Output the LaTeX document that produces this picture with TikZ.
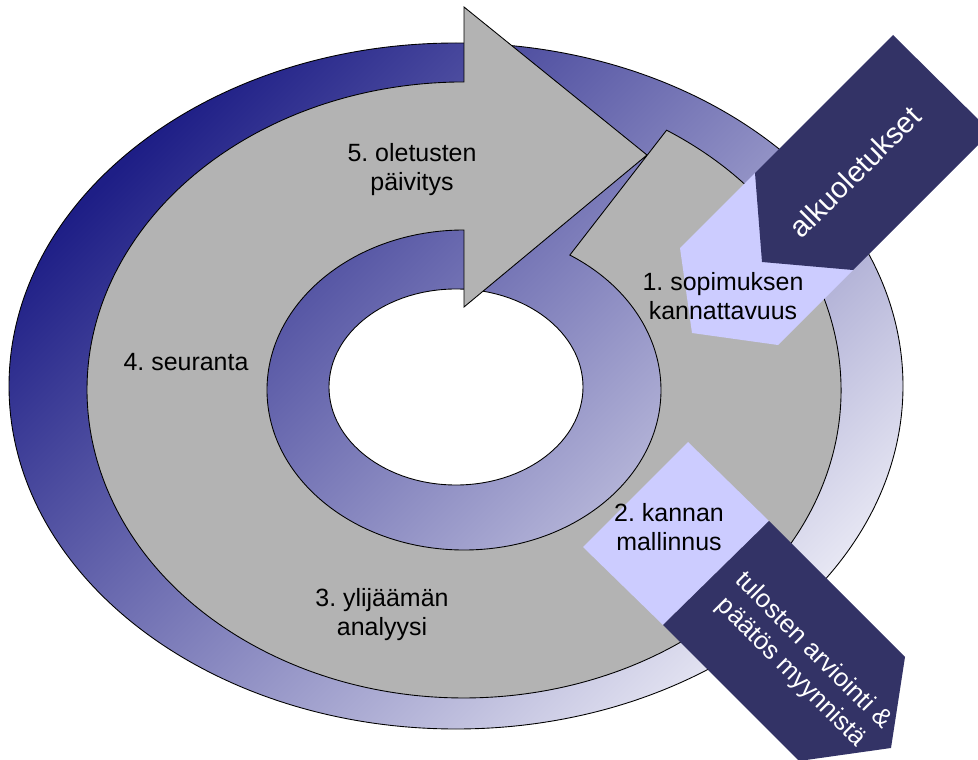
\documentclass[tikz,border=0pt]{standalone}
\usepackage{fontspec}
\setmainfont{Liberation Sans}
\usepackage{tikz}
\frenchspacing

\definecolor{ringgrey}{HTML}{B3B3B3}
\definecolor{lavender}{HTML}{CCCCFF}
\definecolor{darknavy}{HTML}{333366}
\definecolor{bluedark}{RGB}{30,30,134}
\definecolor{bluelight}{RGB}{230,230,243}

\tikzset{
  outline/.style={draw=black, line width=0.5pt},
  stage/.style={align=center, font=\fontsize{14.2}{16.5}\selectfont},
  flowtext/.style={align=center, text=white, font=\fontsize{14.6}{17.4}\selectfont},
}

\begin{document}
\begin{tikzpicture}[x=0.02cm, y=-0.02cm]
    \useasboundingbox (0,0) rectangle (978,760);
    \clip (0,0) rectangle (978,760);

    \draw[outline, top color=bluedark, bottom color=bluelight, shading angle=45] (456,386) ellipse [x radius=447, y radius=343];
    \draw[outline, fill=white] (456,387) ellipse [x radius=127, y radius=98];
    \draw[outline, fill=ringgrey] (666.6,130.2)
        arc[start angle=-57.5, end angle=270, x radius=377, y radius=308]
        -- (464,7) -- (647,155) -- (464,307) -- (464,230)
        arc[start angle=270, end angle=-57.5, x radius=197, y radius=160] -- cycle;

    \fill[lavender] (755,173) -- (680,248) -- (692,333) -- (778,345) -- (853,270) -- cycle;
    \fill[lavender] (688,442) -- (583,547) -- (663,625) -- (769,521) -- cycle;
    \fill[darknavy] (893,35) -- (755,173) -- (762,262) -- (853,270) -- (991,132) -- cycle;
    \fill[darknavy] (769,521) -- (663,625) -- (799,761) -- (891,748) -- (905,657) -- cycle;

    \node[stage] at (412,170) (s5) {5. oletusten\\päivitys};
    \node[stage] at (186,362) (s4) {4. seuranta};
    \node[stage] at (382,615) (s3) {3. ylijäämän\\analyysi};
    \node[stage] at (723,296) (s1) {1. sopimuksen\\kannattavuus};
    \node[stage] at (669,527) (s2) {2. kannan\\mallinnus};

    \node[flowtext, rotate=45, font=\fontsize{16.7}{19}\selectfont] at (855,172) (input) {alkuoletukset};
    \node[flowtext, rotate=-45] at (802,662) (output) {tulosten arviointi \&\\päätös myynnistä};
\end{tikzpicture}
\end{document}
